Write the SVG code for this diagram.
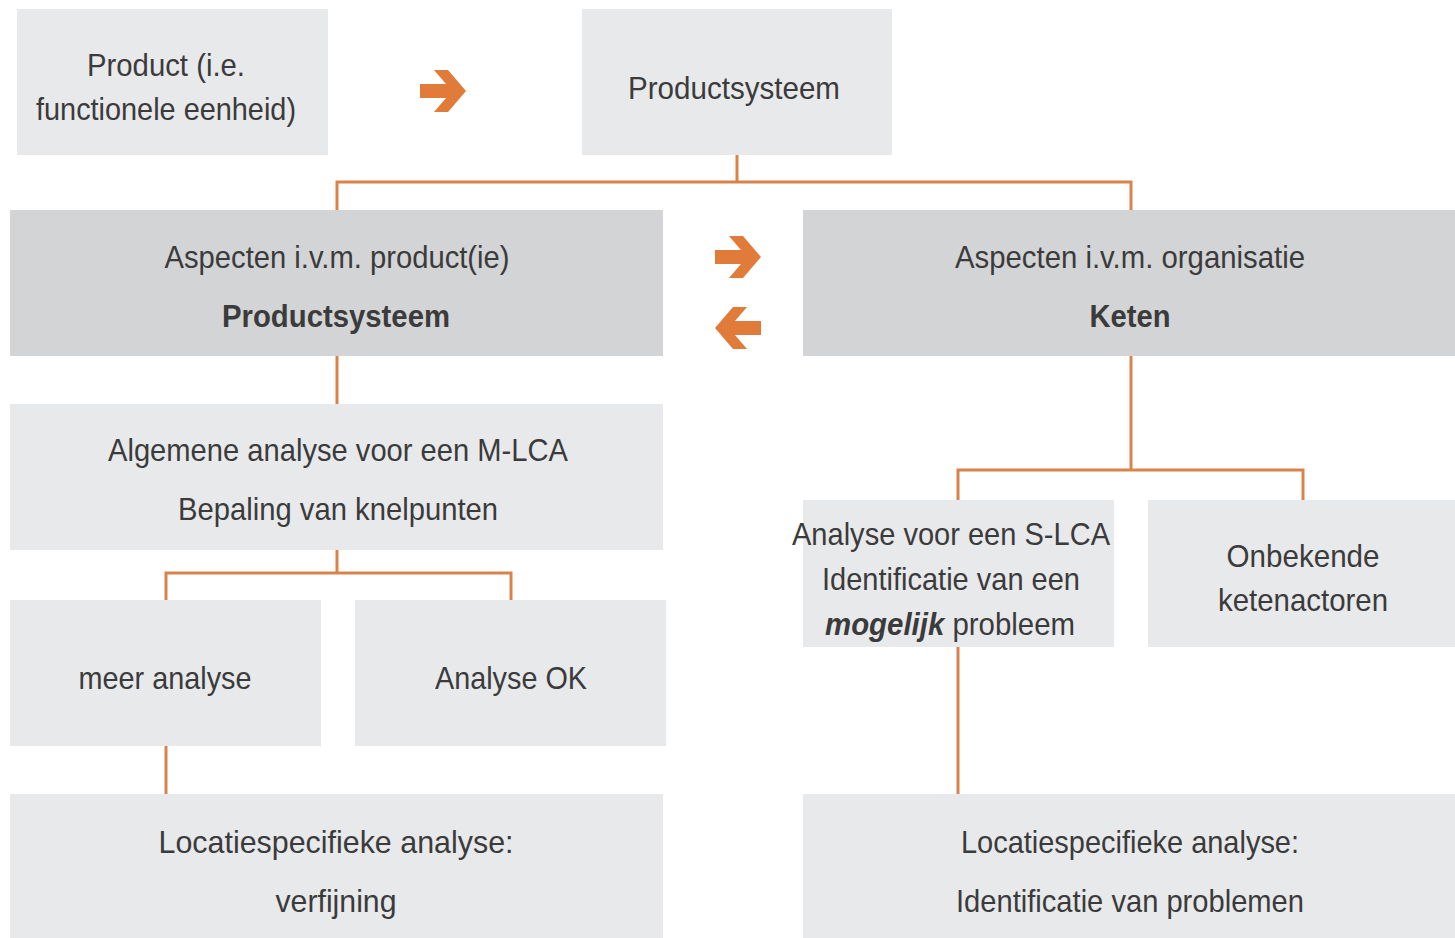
<svg xmlns="http://www.w3.org/2000/svg" width="1455" height="938" viewBox="0 0 1455 938">
<style>
.lt{fill:#e8e9eb}
.dk{fill:#d3d4d6}
text{font-family:"Liberation Sans",Arial,sans-serif;font-size:32px;fill:#3b3b3b;text-anchor:middle}
.b{font-weight:bold}
.c{stroke:#d9834a;stroke-width:3;fill:none}
.ar{fill:#e07b39}
</style>
<defs>
<path id="arr" d="M-23,-7 H3 L-9,-21 H5 L23,0 L5,21 H-9 L3,7 H-23 Z"/>
</defs>
<rect width="1455" height="938" fill="#fff"/>
<g id="connectors">
<path class="c" d="M737,155 V182 M337,210 V182 H1131 V210"/>
<path class="c" d="M337,356 V404 M337,550 V573 M166,600 V573 H511 V600"/>
<path class="c" d="M166,746 V794"/>
<path class="c" d="M1131,356 V470 M958,500 V470 H1303 V500"/>
<path class="c" d="M958,647 V794"/>
</g>
<g id="product">
<rect class="lt" x="17" y="9" width="311" height="146"/>
<text x="166" y="76" textLength="158" lengthAdjust="spacingAndGlyphs">Product (i.e.</text>
<text x="166" y="120" textLength="260" lengthAdjust="spacingAndGlyphs">functionele eenheid)</text>
</g>
<g id="arrow1"><use href="#arr" class="ar" transform="translate(443,91)"/></g>
<g id="productsysteem">
<rect class="lt" x="582" y="9" width="310" height="146"/>
<text x="734" y="99" textLength="212" lengthAdjust="spacingAndGlyphs">Productsysteem</text>
</g>
<g id="aspecten-product">
<rect class="dk" x="10" y="210" width="653" height="146"/>
<text x="337" y="268" textLength="345" lengthAdjust="spacingAndGlyphs">Aspecten i.v.m. product(ie)</text>
<text x="336" y="327" class="b" textLength="228" lengthAdjust="spacingAndGlyphs">Productsysteem</text>
</g>
<g id="arrows-mid">
<use href="#arr" class="ar" transform="translate(738,257)"/>
<use href="#arr" class="ar" transform="translate(738,328) scale(-1,1)"/>
</g>
<g id="aspecten-organisatie">
<rect class="dk" x="803" y="210" width="652" height="146"/>
<text x="1130" y="268" textLength="350" lengthAdjust="spacingAndGlyphs">Aspecten i.v.m. organisatie</text>
<text x="1130" y="327" class="b" textLength="81" lengthAdjust="spacingAndGlyphs">Keten</text>
</g>
<g id="algemene">
<rect class="lt" x="10" y="404" width="653" height="146"/>
<text x="338" y="461" textLength="460" lengthAdjust="spacingAndGlyphs">Algemene analyse voor een M-LCA</text>
<text x="338" y="520" textLength="320" lengthAdjust="spacingAndGlyphs">Bepaling van knelpunten</text>
</g>
<g id="meer-analyse">
<rect class="lt" x="10" y="600" width="311" height="146"/>
<text x="165" y="689" textLength="173" lengthAdjust="spacingAndGlyphs">meer analyse</text>
</g>
<g id="analyse-ok">
<rect class="lt" x="355" y="600" width="311" height="146"/>
<text x="511" y="689" textLength="152" lengthAdjust="spacingAndGlyphs">Analyse OK</text>
</g>
<g id="locatie-left">
<rect class="lt" x="10" y="794" width="653" height="144"/>
<text x="336" y="853" textLength="355" lengthAdjust="spacingAndGlyphs">Locatiespecifieke analyse:</text>
<text x="336" y="912" textLength="121" lengthAdjust="spacingAndGlyphs">verfijning</text>
</g>
<g id="slca">
<rect class="lt" x="803" y="500" width="311" height="147"/>
<text x="951" y="545" textLength="318" lengthAdjust="spacingAndGlyphs">Analyse voor een S-LCA</text>
<text x="951" y="590" textLength="258" lengthAdjust="spacingAndGlyphs">Identificatie van een</text>
<text x="950" y="635" textLength="250" lengthAdjust="spacingAndGlyphs"><tspan class="b" font-style="italic">mogelijk</tspan> probleem</text>
</g>
<g id="onbekende">
<rect class="lt" x="1148" y="500" width="307" height="147"/>
<text x="1303" y="567" textLength="153" lengthAdjust="spacingAndGlyphs">Onbekende</text>
<text x="1303" y="611" textLength="170" lengthAdjust="spacingAndGlyphs">ketenactoren</text>
</g>
<g id="locatie-right">
<rect class="lt" x="803" y="794" width="652" height="144"/>
<text x="1130" y="853" textLength="338" lengthAdjust="spacingAndGlyphs">Locatiespecifieke analyse:</text>
<text x="1130" y="912" textLength="348" lengthAdjust="spacingAndGlyphs">Identificatie van problemen</text>
</g>
</svg>
